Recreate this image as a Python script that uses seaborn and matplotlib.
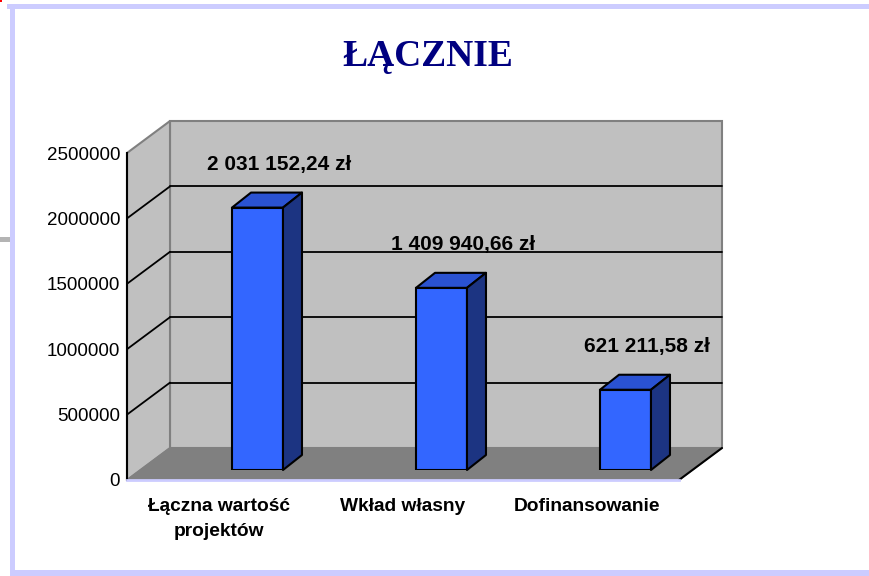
import matplotlib
matplotlib.use('Agg')
import matplotlib.pyplot as plt
from matplotlib.patches import Polygon, Rectangle
from matplotlib.lines import Line2D
import seaborn as sns
import pandas as pd

# ---- data ----
categories = ['Łączna wartość\nprojektów', 'Wkład własny', 'Dofinansowanie']
values = [2031152.24, 1409940.66, 621211.58]
value_labels = ['2 031 152,24 zł', '1 409 940,66 zł', '621 211,58 zł']
y_ticks = [0, 500000, 1000000, 1500000, 2000000, 2500000]
title = 'ŁĄCZNIE'

# ---- style ----
W, H = 870, 576
sns.set_style('white')
plt.rcParams['font.family'] = ['Liberation Sans', 'DejaVu Sans']
plt.rcParams['text.color'] = 'black'
plt.rcParams['xtick.color'] = 'black'
plt.rcParams['ytick.color'] = 'black'
plt.rcParams['xtick.labelcolor'] = 'black'
plt.rcParams['ytick.labelcolor'] = 'black'

LAV = '#CCCCFF'
WALL = '#C0C0C0'
FLOOR = '#808080'
EDGE = '#808080'
FRONT = '#3366FF'
TOP = '#2A52D2'
SIDE = '#1C3482'

fig = plt.figure(figsize=(W / 100, H / 100), dpi=100)
fig.patch.set_facecolor('white')


def frect(x, y, w, h, color):
    fig.add_artist(Rectangle((x / W, 1 - (y + h) / H), w / W, h / H,
                             transform=fig.transFigure, color=color, lw=0))


# slide frame
frect(7, 4, W - 7, 5, LAV)
frect(10, 4, 5, H - 4, LAV)
frect(10, 570, W - 10, 6, LAV)
frect(0, 237, 10, 5, '#B4B4B4')
frect(0, 0, 2, 2, '#FF0000')

# title
fig.text(428 / W, 1 - 57 / H, title, ha='center', va='center', fontsize=27,
         fontweight='bold', family=['Liberation Serif', 'DejaVu Serif'],
         color='#000080')

# ---- front plane axes ----
ax = fig.add_axes([127 / W, (H - 480) / H, 552 / W, 327 / H])
ax.set_facecolor('none')
ax.set_xlim(-0.5, 2.5)
ax.set_ylim(0, 2.5e6)

ymax = y_ticks[-1]
dx = 43 / 184          # depth in category units
dy = 32 / 327 * ymax    # depth in value units
x0, x1 = -0.5, 2.5

# back wall
ax.add_patch(Polygon([(x0 + dx, dy), (x1 + dx, dy), (x1 + dx, ymax + dy), (x0 + dx, ymax + dy)],
                     closed=True, facecolor=WALL, edgecolor=EDGE, lw=1.5, clip_on=False, zorder=0.5))
# side wall
ax.add_patch(Polygon([(x0, 0), (x0 + dx, dy), (x0 + dx, ymax + dy), (x0, ymax)],
                     closed=True, facecolor=WALL, edgecolor=EDGE, lw=1.5, clip_on=False, zorder=0.5))
# floor
ax.add_patch(Polygon([(x0, 0), (x0 + dx, dy), (x1 + dx, dy), (x1, 0)],
                     closed=True, facecolor=FLOOR, edgecolor=EDGE, lw=1.0, clip_on=False, zorder=0.6))
ax.add_line(Line2D([x1, x1 + dx], [0, dy], color='black', lw=1.5, clip_on=False, zorder=0.7))
# gridlines
for v in y_ticks[1:-1]:
    ax.add_line(Line2D([x0 + dx, x1 + dx], [v + dy, v + dy], color='black', lw=1.3,
                       clip_on=False, zorder=0.8))
    ax.add_line(Line2D([x0, x0 + dx], [v, v + dy], color='black', lw=1.3,
                       clip_on=False, zorder=0.8))

for s in ['top', 'right']:
    ax.spines[s].set_visible(False)
ax.spines['left'].set_color('black')
ax.spines['left'].set_linewidth(1.5)
ax.spines['bottom'].set_color(LAV)
ax.spines['bottom'].set_linewidth(2)

ax.set_yticks(y_ticks)
ax.set_yticklabels([str(v) for v in y_ticks], fontsize=13.5, color='black')
ax.tick_params(axis='y', length=0, pad=5)
ax.set_xticks([0, 1, 2])
ax.set_xticklabels(categories, fontsize=13.8, fontweight='bold', linespacing=1.6,
                   color='black')
ax.tick_params(axis='x', which='major', length=0, pad=13)
ax.set_xticks([-0.5, 0.5, 1.5, 2.5], minor=True)
ax.tick_params(axis='x', which='minor', length=5, color=LAV, width=1.5)

# ---- bar plane axes (shifted into depth) ----
bax = fig.add_axes([(127 + 38.5) / W, (H - 470) / H, 552 / W, 323 / H])
df = pd.DataFrame({'category': categories, 'value': values})
sns.barplot(data=df, x='category', y='value', ax=bax, color=FRONT, saturation=1,
            width=0.277, edgecolor='black', linewidth=1.5, zorder=3)
bax.set_xlim(-0.5, 2.5)
bax.set_ylim(0, 2.5e6)
bax.axis('off')
bax.patch.set_alpha(0)

bdx = 19 / 184
bdy = 15 / 323 * ymax
for p, lab in zip(bax.patches, value_labels):
    px, pw, ph = p.get_x(), p.get_width(), p.get_height()
    bax.add_patch(Polygon([(px, ph), (px + bdx, ph + bdy), (px + pw + bdx, ph + bdy), (px + pw, ph)],
                          closed=True, facecolor=TOP, edgecolor='black', lw=1.5,
                          clip_on=False, zorder=3, joinstyle='round'))
    bax.add_patch(Polygon([(px + pw, 0), (px + pw + bdx, bdy), (px + pw + bdx, ph + bdy), (px + pw, ph)],
                          closed=True, facecolor=SIDE, edgecolor='black', lw=1.5,
                          clip_on=False, zorder=3, joinstyle='round'))
    bax.annotate(lab, (px + pw / 2 + bdx / 2, ph + bdy / 2), xytext=(12, 36),
                 textcoords='offset pixels', ha='center', va='center', color='black',
                 fontsize=15, fontweight='bold', annotation_clip=False)

fig.savefig('out.png', dpi=100)
